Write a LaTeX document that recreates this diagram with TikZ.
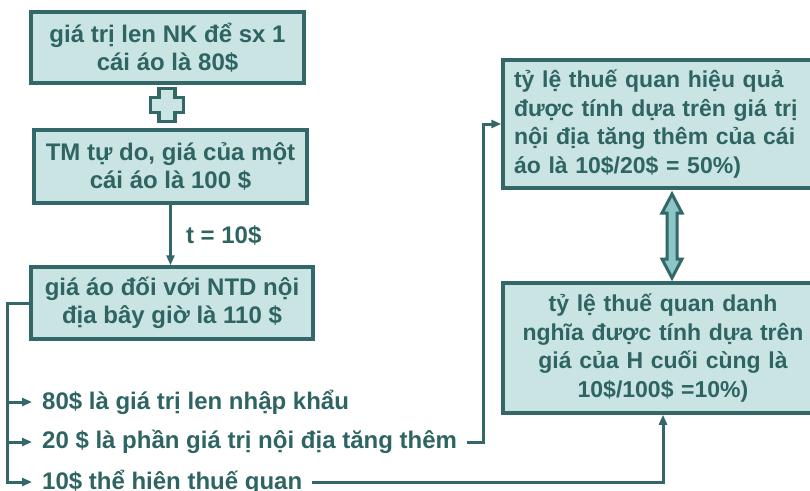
\documentclass[tikz,border=0pt]{standalone}
\usepackage{fontspec}
\setmainfont{Liberation Sans}
\usetikzlibrary{arrows.meta}
\definecolor{tline}{RGB}{52,104,104}
\definecolor{ttext}{RGB}{46,100,98}
\definecolor{tfill}{RGB}{201,228,226}
\definecolor{tmid}{RGB}{140,198,198}
\begin{document}
\begin{tikzpicture}[x=1pt,y=-1pt,line join=miter,
  every node/.style={font=\fontsize{24}{28}\selectfont\bfseries,text=ttext},
  box/.style={draw=tline,line width=3.5pt,fill=tfill,inner xsep=11pt,inner ysep=0pt,align=center},
  rate/.style={box,font=\fontsize{23}{28.5}\selectfont\bfseries,text width=298pt},
  item/.style={anchor=west,inner xsep=10pt,inner ysep=2pt},
  conn/.style={draw=tline,line width=3pt,-{Triangle[length=10pt,width=8pt]}},
  sym/.style={draw=tline,line width=3.5pt}]
  \useasboundingbox (0,0) rectangle (810,490);
  \node[box,minimum width=273pt,minimum height=71pt] (B1) at (167.5,47.5) {giá trị len NK để sx 1\\cái áo là 80\$};
  \node[box,minimum width=273pt,minimum height=73pt] (B2) at (170.5,166.5) {TM tự do, giá của một\\cái áo là 100 \$};
  \node[box,minimum width=282pt,minimum height=72pt] (B3) at (172,303) {giá áo đối với NTD nội\\địa bây giờ là 110 \$};
  \node[rate,align=left,minimum height=128pt] (E) at (663,124)
    {tỷ lệ thuế quan hiệu quả\\được tính dựa trên giá trị\\nội địa tăng thêm của cái\\áo là 10\$/20\$ = 50\%)};
  \node[rate,minimum height=130pt] (N) at (663,348)
    {tỷ lệ thuế quan danh\\nghĩa được tính dựa trên\\giá của H cuối cùng là\\10\$/100\$ =10\%)};
  \node[item] (L1) at (32,402) {80\$ là giá trị len nhập khẩu};
  \node[item] (L2) at (32,442) {20 \$ là phần giá trị nội địa tăng thêm};
  \node[item] (L3) at (32,482) {10\$ thể hiện thuế quan};
  % plus sign between the first two boxes
  \coordinate (P) at (167,105);
  \draw[sym,fill=tfill] ([shift={(-8,-16.5)}]P) -- ++(16,0) -- ++(0,9) -- ++(8.5,0) -- ++(0,15)
    -- ++(-8.5,0) -- ++(0,9) -- ++(-16,0) -- ++(0,-9) -- ++(-8.5,0) -- ++(0,-15) -- ++(8.5,0) -- cycle;
  % double arrow between the two rates
  \draw[sym,line width=3pt,fill=tmid] (672,194) -- ++(10,19) -- ++(-5,0) -- ++(0,46) -- ++(5,0)
    -- ++(-10,19) -- ++(-10,-19) -- ++(5,0) -- ++(0,-46) -- ++(-5,0) -- cycle;
  \draw[conn] (B2.south) -- (B2.south |- B3.north) node[midway,anchor=west,inner sep=2pt,xshift=12pt] {t = 10\$};
  \coordinate (K) at (7,303);
  \draw[conn] (B3.west) -- (K) |- (L3.west);
  \draw[conn] (K |- L1.west) -- (L1.west);
  \draw[conn] (K |- L2.west) -- (L2.west);
  \draw[conn] (L2.east) -- ++(16,0) |- (E.west);
  \draw[conn] (L3.east) -| (N.south);
\end{tikzpicture}
\end{document}
